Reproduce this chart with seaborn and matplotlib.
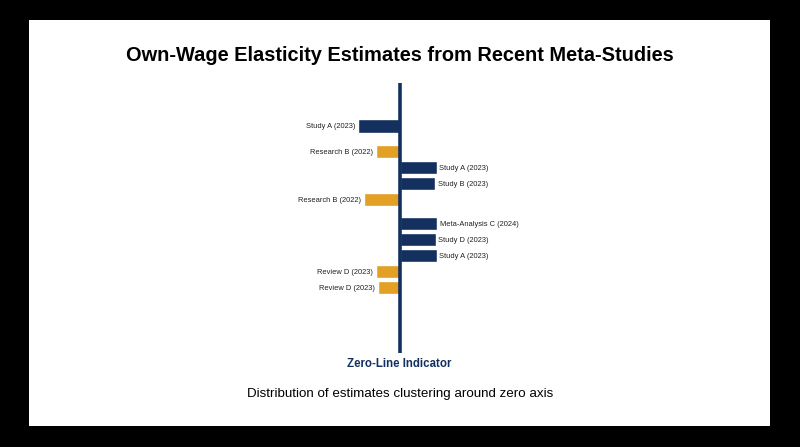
import matplotlib
matplotlib.use("Agg")
import matplotlib.pyplot as plt
import seaborn as sns
import pandas as pd
from matplotlib.patches import Rectangle

# ---- data ----
studies = ["Study A (2023)", "Research B (2022)", "Study A (2023)", "Study B (2023)",
           "Research B (2022)", "Meta-Analysis C (2024)", "Study D (2023)",
           "Study A (2023)", "Review D (2023)", "Review D (2023)"]
elasticity = [-0.140, -0.081, 0.122, 0.118, -0.120, 0.124, 0.119, 0.122, -0.081, -0.074]
row_pos = [0.0, 1.6, 2.6, 3.6, 4.6, 6.1, 7.1, 8.1, 9.1, 10.1]
group = ["navy", "gold", "navy", "navy", "gold", "navy", "navy", "navy", "gold", "gold"]

title = "Own-Wage Elasticity Estimates from Recent Meta-Studies"
subtitle = "Distribution of estimates clustering around zero axis"
zero_label = "Zero-Line Indicator"

NAVY = "#14305f"
GOLD = "#e2a024"

df = pd.DataFrame({"study": studies, "elasticity": elasticity,
                   "pos": row_pos, "group": group})

sns.set_theme(style="white")
plt.rcParams["font.family"] = ["Liberation Sans", "DejaVu Sans"]

W, H = 800, 447
fig = plt.figure(figsize=(8, 4.47), dpi=100, facecolor="black")
fig.patches.append(Rectangle((29 / W, 1 - 426 / H), 741 / W, 406 / H,
                             transform=fig.transFigure, facecolor="white",
                             edgecolor="none", zorder=-10))

# axes: x px 200..600, y px 83..353
ax = fig.add_axes([200 / W, 1 - 353 / H, 400 / W, 270 / H])
ax.set_zorder(5)
ax.set_facecolor("none")

sns.barplot(data=df, x="elasticity", y="pos", hue="group", orient="h",
            native_scale=True, dodge=False, width=0.86,
            palette={"navy": NAVY, "gold": GOLD}, legend=False,
            saturation=1, ax=ax)

ax.set_xlim(-0.6667, 0.6667)
ax.set_ylim(14.1875, -2.6875)
ax.axvline(0, color=NAVY, lw=2.6, zorder=5)

for s, v, p in zip(studies, elasticity, row_pos):
    if v < 0:
        ax.annotate(s, (v, p), xytext=(-2, 0), textcoords="offset points",
                    ha="right", va="center_baseline", fontsize=5.4, color="#222222")
    else:
        ax.annotate(s, (v, p), xytext=(2, 0), textcoords="offset points",
                    ha="left", va="center_baseline", fontsize=5.4, color="#222222")

for sp in ax.spines.values():
    sp.set_visible(False)
ax.set_xticks([])
ax.set_yticks([])
ax.set_xlabel("")
ax.set_ylabel("")

fig.text(0.5, 1 - 55.5 / H, title, ha="center", va="center",
         fontsize=14.4, fontweight="bold", color="black", zorder=6)
fig.text(399.5 / W, 1 - 364 / H, zero_label, ha="center", va="center",
         fontsize=8.3, fontweight="bold", color=NAVY, zorder=6)
fig.text(0.5, 1 - 394 / H, subtitle, ha="center", va="center",
         fontsize=9.6, color="black", zorder=6)

fig.savefig("out.png", dpi=100, facecolor=fig.get_facecolor())
